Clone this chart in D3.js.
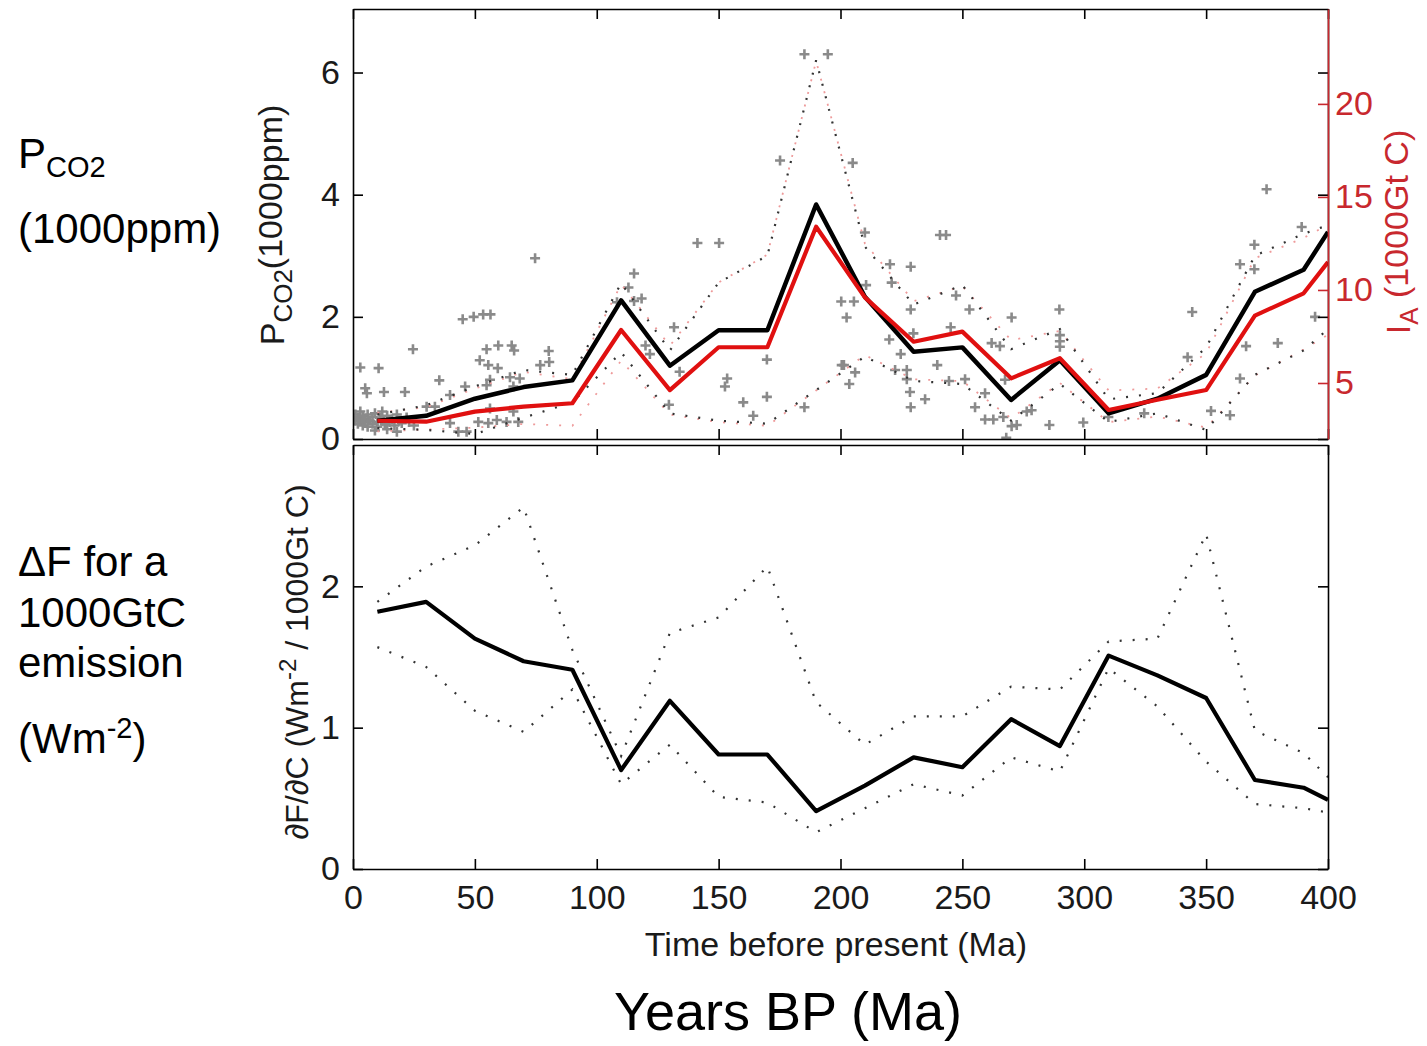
<!DOCTYPE html>
<html><head><meta charset="utf-8">
<script src="https://cdn.jsdelivr.net/npm/d3@7"></script>
<style>
body{margin:0;background:#fff}
text{font-family:'Liberation Sans',Arial,Helvetica,sans-serif}
</style>
</head><body>
<svg id="chart" width="1427" height="1046"></svg>
<script>
// ---- DATA ----
const ages = [10,30,50,70,90,110,130,150,170,190,210,230,250,270,290,310,330,350,370,390,400];
// Top panel: P_CO2 (1000 ppm)
const pco2Mean  = [0.30,0.38,0.66,0.85,0.96,2.27,1.20,1.78,1.78,3.84,2.33,1.43,1.50,0.64,1.29,0.42,0.66,1.05,2.41,2.77,3.39];
const pco2Upper = [0.40,0.55,0.86,1.13,1.05,2.55,1.45,2.56,3.00,6.20,3.15,2.20,2.52,1.47,1.80,0.65,0.75,1.50,3.00,3.36,3.50];
const pco2Lower = [0.18,0.15,0.08,0.35,0.60,1.42,0.42,0.30,0.25,0.80,1.35,0.95,0.90,0.30,0.90,0.28,0.42,0.15,1.05,1.45,1.80];
// Top panel, right axis: I_A (1000 Gt C)
const iaMean  = [2.97,2.92,3.46,3.73,3.91,7.85,4.62,6.92,6.92,13.4,9.60,7.22,7.76,5.25,6.33,3.55,4.10,4.62,8.62,9.82,11.5];
const iaUpper = [3.40,3.70,4.70,5.60,5.20,10.3,7.00,10.4,11.9,22.3,12.5,9.40,10.2,7.30,7.80,4.60,4.70,6.60,11.7,12.8,13.5];
const iaLower = [2.40,2.50,2.60,2.80,2.70,6.20,3.30,2.90,2.70,4.60,6.50,5.20,5.10,3.10,5.00,2.90,3.20,2.60,5.40,6.80,7.60];
// Bottom panel: dF/dC (W m-2 per 1000 Gt C)
const dfdcMean  = [1.82,1.89,1.63,1.47,1.41,0.70,1.19,0.81,0.81,0.41,0.59,0.79,0.72,1.06,0.87,1.51,1.37,1.21,0.63,0.575,0.49];
const dfdcUpper = [1.89,2.14,2.29,2.56,1.55,0.80,1.67,1.78,2.14,1.18,0.88,1.08,1.08,1.29,1.27,1.61,1.63,2.37,0.98,0.82,0.65];
const dfdcLower = [1.57,1.43,1.12,0.97,1.27,0.60,0.88,0.51,0.47,0.26,0.43,0.60,0.52,0.79,0.69,1.42,1.15,0.76,0.46,0.43,0.40];
// Proxy CO2 data points [age Ma, P_CO2 1000ppm]
const proxyPoints = [
 [1,0.30],[1,0.40],[2,0.25],[2,0.35],[3,0.30],[3,0.45],[4,0.22],[4,0.38],[5,0.28],[5,0.33],[6,0.40],[6,0.20],
 [7,0.30],[8,0.25],[8,0.36],[9,0.42],[10,0.28],[10,0.20],[11,0.35],[12,0.30],[12,0.45],[13,0.24],[14,0.38],
 [15,0.28],[16,0.32],[17,0.22],[18,0.40],[19,0.30],[20,0.26],[22,0.35],[23,0.28],[25,0.22],[14,0.16],[9,0.14],[18,0.12],
 [3,1.17],[10.5,1.16],[5,0.83],[5.7,0.75],[12.7,0.77],[21.3,0.77],[24.6,1.47],[35.4,0.96],[30.2,0.53],[33.6,0.53],
 [45,1.96],[49.5,2.0],[53.4,2.04],[56.4,2.04],[54.8,1.47],[59.6,1.53],[65.1,1.53],[66.1,1.45],[52,1.29],
 [55.5,1.21],[59.4,1.16],[80.3,1.44],[76.8,1.21],[80.5,1.26],[56.2,0.97],[64.4,1.01],[68.4,0.99],
 [65.8,0.86],[46,0.86],[74.7,2.96],[54.8,0.88],[39.8,0.72],
 [39.8,0.26],[43.2,0.12],[46.6,0.12],[51.4,0.28],[55.5,0.26],[59,0.31],[63,0.28],[67.8,0.28],[65.8,0.45],[56.2,0.50],
 [108.3,2.24],[113,2.48],[115.3,2.71],[115.3,2.26],[118.4,2.30],[120,1.53],[121.8,1.39],[131.7,1.83],[134,1.10],
 [129.6,0.56],[141.3,3.21],[150.2,3.21],[153.5,0.99],[152.6,0.86],[169.8,1.30],[169.8,0.69],[160.1,0.60],
 [164.2,0.38],[175.2,4.56],[185.2,6.30],[194.8,6.30],[185.2,0.52],[200.3,2.25],[200.5,1.21],
 [205,4.52],[210,3.38],[240.8,3.34],[243.3,3.34],[220.3,2.86],[228.8,2.82],[221,2.56],[210.5,2.52],[205.5,2.25],
 [202.5,1.99],[228.8,2.12],[247.4,2.35],[252.9,2.12],[229.9,1.73],[220,1.63],[224.7,1.39],[239.7,1.21],
 [245.2,1.83],[244.5,0.95],[251.1,0.98],[222.4,1.13],[227.2,1.13],[227.2,0.98],[206,1.09],[203.6,0.90],
 [201.4,1.21],[228.5,0.77],[228.8,0.52],[234.7,0.65],[270.2,1.99],[262,1.57],[265.4,1.52],[255.2,0.52],
 [259.3,0.75],[267.5,0.97],[259.3,0.32],[262.7,0.32],[266.8,0.36],[270.2,0.21],[272.3,0.23],[276.4,0.45],
 [278.4,0.47],[289.8,2.12],[290,1.70],[290,1.60],[290,1.51],[285.7,0.23],[299.6,0.27],[268,0.02],
 [374.8,4.09],[389.2,3.47],[369.8,3.18],[363.9,2.86],[369.8,2.78],[344.3,2.08],[394.7,2.00],[366.4,1.52],
 [379.4,1.57],[342.4,1.34],[363.9,0.99],[352,0.46],[359.8,0.39],[309.9,0.36],[324.6,0.42]
];
const xTickValues = [0,50,100,150,200,250,300,350,400];
const topLeftTicks = [0,2,4,6];
const topRightTicks = [5,10,15,20];
const botLeftTicks = [0,1,2];

// ---- LAYOUT ----
const svg = d3.select('#chart');
const L = 353, R = 1328, T1 = 9, B1 = 439, T2 = 445, B2 = 869;
const x = d3.scaleLinear().domain([0,400]).range([L,R]);
const yTop = d3.scaleLinear().domain([0,7.04]).range([B1,T1]);
const yIA  = d3.scaleLinear().domain([1.99,25.1]).range([B1,T1]);
const yBot = d3.scaleLinear().domain([0,3]).range([B2,T2]);
const RED = '#e01010', REDAXIS = '#c8282e';
const fmt = d3.format('d');

const defs = svg.append('defs');
defs.append('clipPath').attr('id','c1').append('rect').attr('x',L).attr('y',T1).attr('width',R-L).attr('height',B1-T1);
defs.append('clipPath').attr('id','c2').append('rect').attr('x',L).attr('y',T2).attr('width',R-L).attr('height',B2-T2);

const p1 = svg.append('g').attr('clip-path','url(#c1)');
const p2 = svg.append('g').attr('clip-path','url(#c2)');

// proxy crosses
p1.selectAll('path.cross').data(proxyPoints).join('path')
  .attr('class','cross')
  .attr('transform', d => `translate(${x(d[0])},${yTop(d[1])})`)
  .attr('d','M-5,0H5M0,-5V5')
  .attr('stroke','#8a8a8a').attr('stroke-width',2.6).attr('fill','none');

function lineOf(vals, ys){
  return d3.line().x((d,i)=>x(ages[i])).y(d=>ys(d))(vals);
}
function dotted(g, vals, ys, color, w, dash){
  g.append('path').attr('d', lineOf(vals, ys)).attr('fill','none')
   .attr('stroke',color).attr('stroke-width',w).attr('stroke-dasharray',dash);
}
// faint red envelopes
dotted(p1, iaUpper, yIA, '#ee9a9a', 1.8, '2 11');
dotted(p1, iaLower, yIA, '#ee9a9a', 1.8, '2 11');
// black envelopes
dotted(p1, pco2Upper, yTop, '#333', 2.2, '2 11');
dotted(p1, pco2Lower, yTop, '#333', 2.2, '2 11');
// mean lines
p1.append('path').attr('d', lineOf(pco2Mean, yTop)).attr('fill','none')
  .attr('stroke','#000').attr('stroke-width',4.5).attr('stroke-linejoin','round');
p1.append('path').attr('d', lineOf(iaMean, yIA)).attr('fill','none')
  .attr('stroke',RED).attr('stroke-width',4.2).attr('stroke-linejoin','round');

// bottom panel
dotted(p2, dfdcUpper, yBot, '#333', 2.2, '2 11');
dotted(p2, dfdcLower, yBot, '#333', 2.2, '2 11');
p2.append('path').attr('d', lineOf(dfdcMean, yBot)).attr('fill','none')
  .attr('stroke','#000').attr('stroke-width',4.2).attr('stroke-linejoin','round');

// ---- AXES ----
function styleAxis(g, color){
  g.selectAll('path.domain').attr('stroke',color).attr('stroke-width',1.6);
  g.selectAll('.tick line').attr('stroke',color).attr('stroke-width',1.6);
  g.selectAll('.tick text').attr('font-size',34).attr('font-family',"'Liberation Sans',Arial,sans-serif")
    .attr('fill', color === '#000' ? '#1a1a1a' : color);
}
// top panel
styleAxis(svg.append('g').attr('transform',`translate(0,${B1})`)
  .call(d3.axisBottom(x).tickValues(xTickValues).tickSize(-10).tickSizeOuter(0).tickFormat('')), '#000');
styleAxis(svg.append('g').attr('transform',`translate(0,${T1})`)
  .call(d3.axisTop(x).tickValues(xTickValues).tickSize(-10).tickSizeOuter(0).tickFormat('')), '#000');
styleAxis(svg.append('g').attr('transform',`translate(${L},0)`)
  .call(d3.axisLeft(yTop).tickValues(topLeftTicks).tickSize(-10).tickSizeOuter(0).tickPadding(13).tickFormat(fmt)), '#000');
styleAxis(svg.append('g').attr('transform',`translate(${R},0)`)
  .call(d3.axisRight(yTop).tickValues(topLeftTicks).tickSize(-10).tickSizeOuter(0).tickFormat('')), '#000');
styleAxis(svg.append('g').attr('transform',`translate(${R},0)`)
  .call(d3.axisRight(yIA).tickValues(topRightTicks).tickSize(-10).tickSizeOuter(0).tickPadding(7).tickFormat(fmt)), REDAXIS);

// bottom panel
styleAxis(svg.append('g').attr('transform',`translate(0,${B2})`)
  .call(d3.axisBottom(x).tickValues(xTickValues).tickSize(-10).tickSizeOuter(0).tickPadding(16).tickFormat(fmt)), '#000');
styleAxis(svg.append('g').attr('transform',`translate(0,${T2})`)
  .call(d3.axisTop(x).tickValues(xTickValues).tickSize(-10).tickSizeOuter(0).tickFormat('')), '#000');
styleAxis(svg.append('g').attr('transform',`translate(${L},0)`)
  .call(d3.axisLeft(yBot).tickValues(botLeftTicks).tickSize(-10).tickSizeOuter(0).tickPadding(13).tickFormat(fmt)), '#000');
styleAxis(svg.append('g').attr('transform',`translate(${R},0)`)
  .call(d3.axisRight(yBot).tickValues(botLeftTicks).tickSize(-10).tickSizeOuter(0).tickFormat('')), '#000');

// ---- AXIS TITLES ----
const t1 = svg.append('text').attr('transform','translate(284,225) rotate(-90)')
  .attr('text-anchor','middle').attr('font-size',34).attr('fill','#1a1a1a');
t1.append('tspan').text('P');
t1.append('tspan').attr('font-size',26).attr('dy',8).text('CO2');
t1.append('tspan').attr('dy',-10).text('(1000ppm)');

const t2 = svg.append('text').attr('transform','translate(1410,232) rotate(-90)')
  .attr('text-anchor','middle').attr('font-size',34).attr('fill',REDAXIS);
t2.append('tspan').text('I');
t2.append('tspan').attr('font-size',26).attr('dy',8).text('A');
t2.append('tspan').attr('dy',-10).text(' (1000Gt C)');

const t3 = svg.append('text').attr('transform','translate(308,662) rotate(-90)')
  .attr('text-anchor','middle').attr('font-size',32).attr('fill','#1a1a1a');
t3.append('tspan').text('\u2202F/\u2202C (Wm');
t3.append('tspan').attr('font-size',24).attr('dy',-12).text('-2');
t3.append('tspan').attr('dy',12).text(' / 1000Gt C)');

svg.append('text').attr('x',836).attr('y',956).attr('text-anchor','middle')
  .attr('font-size',34).attr('fill','#1a1a1a').text('Time before present (Ma)');

// ---- SLIDE ANNOTATIONS ----
const ann = svg.append('g').attr('font-size',42).attr('fill','#000');
const a1 = ann.append('text').attr('x',18).attr('y',168);
a1.append('tspan').text('P');
a1.append('tspan').attr('font-size',29).attr('dy',9).text('CO2');
ann.append('text').attr('x',18).attr('y',243).text('(1000ppm)');
ann.append('text').attr('x',18).attr('y',576).text('\u0394F for a');
ann.append('text').attr('x',18).attr('y',627).text('1000GtC');
ann.append('text').attr('x',18).attr('y',677).text('emission');
const a2 = ann.append('text').attr('x',18).attr('y',753);
a2.append('tspan').text('(Wm');
a2.append('tspan').attr('font-size',29).attr('dy',-15).text('-2');
a2.append('tspan').attr('dy',15).text(')');

svg.append('text').attr('x',788).attr('y',1030).attr('text-anchor','middle')
  .attr('font-size',54).attr('fill','#000').text('Years BP (Ma)');
</script>
</body></html>
